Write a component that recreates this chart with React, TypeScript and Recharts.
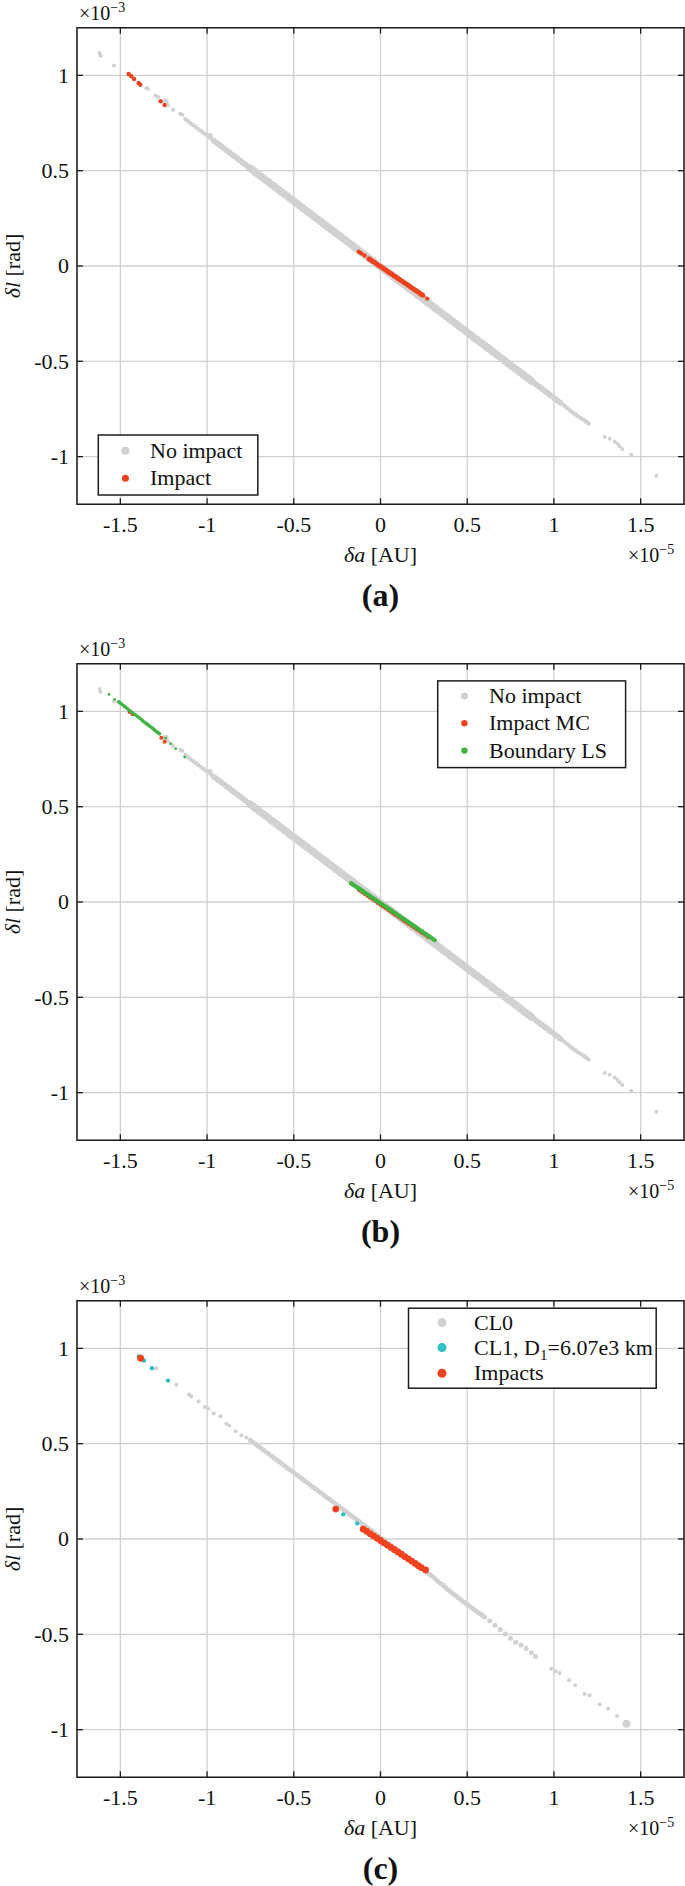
import React from 'react';
import { ScatterChart, Scatter, XAxis, YAxis, CartesianGrid, ReferenceArea } from 'recharts';

// delta-a in units of 1e-5 AU, delta-l in units of 1e-3 rad
type Pt = [number, number];

const xTicks = [-1.5, -1, -0.5, 0, 0.5, 1, 1.5];
const yTicks = [-1, -0.5, 0, 0.5, 1];

// ---- "No impact" cloud (panels a and b) ----
const noImpactSparse: Pt[] = [
  [-1.62, 1.117], [-1.614, 1.103], [-1.537, 1.052], [-1.35, 0.933], [-1.34, 0.93],
  [-1.297, 0.895], [-1.283, 0.886], [-1.225, 0.843], [-1.196, 0.82], [-1.154, 0.799],
  [-1.143, 0.794], [1.293, -0.897], [1.321, -0.906], [1.35, -0.92], [1.366, -0.933],
  [1.379, -0.946], [1.394, -0.96], [1.446, -0.99], [1.591, -1.1],
];
const noImpactThin: Pt[] = [
  [-1.125, 0.77], [-1.11, 0.76], [-1.095, 0.749], [-1.08, 0.739], [-1.065, 0.729], [-1.05, 0.718],
  [-1.035, 0.708], [-1.02, 0.698], [-1.005, 0.688], [-0.99, 0.677], [-0.975, 0.667],
  [1.05, -0.726], [1.065, -0.737], [1.08, -0.747], [1.095, -0.759], [1.11, -0.77], [1.125, -0.779],
  [1.14, -0.789], [1.155, -0.797], [1.17, -0.806], [1.185, -0.816], [1.2, -0.826],
];
const noImpactMid: Pt[] = [
  [-1.239, 0.862], [-0.985, 0.682], [-0.96, 0.656], [-0.945, 0.646], [-0.93, 0.636], [-0.915, 0.626],
  [-0.9, 0.615], [-0.885, 0.605], [-0.87, 0.595], [-0.855, 0.584], [-0.84, 0.574], [-0.825, 0.564],
  [-0.81, 0.553], [-0.795, 0.543], [-0.78, 0.533], [-0.765, 0.522],
  [0.885, -0.613], [0.9, -0.623], [0.915, -0.634], [0.93, -0.644], [0.945, -0.654], [0.96, -0.664],
  [0.975, -0.675], [0.99, -0.685], [1.005, -0.695], [1.02, -0.706], [1.035, -0.716],
];
const noImpactWide: Pt[] = [
  [-0.75, 0.512], [-0.735, 0.502], [-0.72, 0.491], [-0.705, 0.481], [-0.69, 0.471], [-0.675, 0.46],
  [-0.66, 0.45], [-0.645, 0.44], [-0.63, 0.429], [-0.615, 0.419], [-0.6, 0.409], [-0.585, 0.398],
  [-0.57, 0.388], [-0.555, 0.378], [-0.54, 0.368], [-0.525, 0.357], [-0.51, 0.347], [-0.495, 0.337],
  [-0.48, 0.326], [-0.465, 0.316], [-0.45, 0.306], [-0.435, 0.295], [-0.42, 0.285], [-0.405, 0.275],
  [-0.39, 0.264], [-0.375, 0.254], [-0.36, 0.244], [-0.345, 0.233], [-0.33, 0.223], [-0.315, 0.213],
  [-0.3, 0.202], [-0.285, 0.192], [-0.27, 0.182], [-0.255, 0.171], [-0.24, 0.161], [-0.225, 0.151],
  [-0.21, 0.14], [-0.195, 0.13], [-0.18, 0.12], [-0.165, 0.11], [-0.15, 0.099], [-0.135, 0.089],
  [-0.12, 0.079], [-0.105, 0.068], [-0.09, 0.058], [-0.075, 0.048], [-0.06, 0.037], [-0.045, 0.027],
  [-0.03, 0.017], [-0.015, 0.006], [0, -0.004], [0.015, -0.014], [0.03, -0.025], [0.045, -0.035],
  [0.06, -0.045], [0.075, -0.056], [0.09, -0.066], [0.105, -0.076], [0.12, -0.087], [0.135, -0.097],
  [0.15, -0.107], [0.165, -0.118], [0.18, -0.128], [0.195, -0.138], [0.21, -0.148], [0.225, -0.159],
  [0.24, -0.169], [0.255, -0.179], [0.27, -0.19], [0.285, -0.2], [0.3, -0.21], [0.315, -0.221],
  [0.33, -0.231], [0.345, -0.241], [0.36, -0.252], [0.375, -0.262], [0.39, -0.272], [0.405, -0.283],
  [0.42, -0.293], [0.435, -0.303], [0.45, -0.314], [0.465, -0.324], [0.48, -0.334], [0.495, -0.345],
  [0.51, -0.355], [0.525, -0.365], [0.54, -0.376], [0.555, -0.386], [0.57, -0.396], [0.585, -0.406],
  [0.6, -0.417], [0.615, -0.427], [0.63, -0.437], [0.645, -0.448], [0.66, -0.458], [0.675, -0.468],
  [0.69, -0.479], [0.705, -0.489], [0.72, -0.499], [0.735, -0.51], [0.75, -0.52], [0.765, -0.53],
  [0.78, -0.541], [0.795, -0.551], [0.81, -0.561], [0.825, -0.572], [0.84, -0.582], [0.855, -0.592],
  [0.87, -0.603],
];

// ---- panel a: impacts ----
const impactSparseA: Pt[] = [
  [-1.452, 1.007], [-1.437, 0.995], [-1.421, 0.981], [-1.395, 0.96], [-1.385, 0.951],
  [-1.268, 0.864], [-1.245, 0.844], [-0.125, 0.075], [-0.111, 0.066], [-0.092, 0.055], [0.269, -0.171],
];
const impactStripeA: Pt[] = [
  [-0.067, 0.038], [-0.06, 0.034], [-0.05, 0.028], [-0.04, 0.022], [-0.03, 0.016], [-0.02, 0.009],
  [-0.01, 0.003], [0, -0.003], [0.01, -0.009], [0.02, -0.015], [0.03, -0.021], [0.04, -0.028],
  [0.05, -0.034], [0.06, -0.04], [0.07, -0.046], [0.08, -0.052], [0.09, -0.058], [0.1, -0.064],
  [0.11, -0.071], [0.12, -0.077], [0.13, -0.083], [0.14, -0.089], [0.15, -0.095], [0.16, -0.101],
  [0.17, -0.108], [0.18, -0.114], [0.19, -0.12], [0.2, -0.126], [0.21, -0.132], [0.22, -0.138],
  [0.23, -0.145], [0.237, -0.149], [0.244, -0.153],
];

// ---- panel b: Monte Carlo impacts and line-sampling boundary ----
const impactSparseB: Pt[] = [[-1.447, 0.996], [-1.43, 0.985], [-1.264, 0.861], [-1.245, 0.84]];
const impactStripeB: Pt[] = [
  [-0.121, 0.062], [-0.105, 0.052], [-0.09, 0.043], [-0.075, 0.033], [-0.06, 0.024], [-0.045, 0.015],
  [-0.03, 0.006], [-0.015, -0.004], [0, -0.013], [0.015, -0.022], [0.03, -0.031], [0.045, -0.041],
  [0.06, -0.05], [0.075, -0.06], [0.09, -0.069], [0.105, -0.078], [0.12, -0.087], [0.135, -0.097],
  [0.15, -0.106], [0.165, -0.115], [0.18, -0.124], [0.195, -0.134], [0.21, -0.143], [0.225, -0.152],
  [0.24, -0.161], [0.257, -0.171], [0.273, -0.182],
];
const boundarySparseB: Pt[] = [
  [-1.566, 1.089], [-1.533, 1.063], [-1.239, 0.86], [-1.21, 0.83], [-1.181, 0.804], [-1.129, 0.76],
];
const boundaryUpperB: Pt[] = [
  [-1.51, 1.05], [-1.5, 1.043], [-1.49, 1.036], [-1.48, 1.029], [-1.47, 1.022], [-1.46, 1.015],
  [-1.45, 1.007], [-1.44, 1.0], [-1.43, 0.993], [-1.42, 0.986], [-1.41, 0.979], [-1.4, 0.972],
  [-1.39, 0.965], [-1.38, 0.958], [-1.37, 0.95], [-1.36, 0.943], [-1.35, 0.936], [-1.34, 0.929],
  [-1.33, 0.922], [-1.32, 0.915], [-1.31, 0.908], [-1.3, 0.9], [-1.29, 0.893], [-1.282, 0.888],
  [-1.274, 0.882],
];
const boundaryCentreB: Pt[] = [
  [-0.169, 0.098], [-0.16, 0.092], [-0.15, 0.086], [-0.14, 0.08], [-0.13, 0.074], [-0.12, 0.068],
  [-0.11, 0.062], [-0.1, 0.056], [-0.09, 0.049], [-0.08, 0.043], [-0.07, 0.037], [-0.06, 0.031],
  [-0.05, 0.024], [-0.04, 0.018], [-0.03, 0.012], [-0.02, 0.006], [-0.01, 0], [0, -0.006],
  [0.01, -0.012], [0.02, -0.019], [0.03, -0.025], [0.04, -0.031], [0.05, -0.037], [0.06, -0.043],
  [0.07, -0.05], [0.08, -0.056], [0.09, -0.062], [0.1, -0.068], [0.11, -0.074], [0.12, -0.081],
  [0.13, -0.087], [0.14, -0.093], [0.15, -0.099], [0.16, -0.105], [0.17, -0.112], [0.18, -0.118],
  [0.19, -0.124], [0.2, -0.13], [0.21, -0.136], [0.22, -0.143], [0.23, -0.149], [0.24, -0.155],
  [0.25, -0.161], [0.26, -0.167], [0.27, -0.174], [0.28, -0.18], [0.29, -0.186], [0.3, -0.192],
  [0.312, -0.2],
];

// ---- panel c: clusters ----
const cl0Sparse: Pt[] = [
  [-1.293, 0.896], [-1.177, 0.809], [-1.104, 0.758], [-1.091, 0.747], [-1.049, 0.723],
  [-1.014, 0.692], [-0.994, 0.684], [-0.962, 0.658], [-0.923, 0.644], [-0.889, 0.605],
  [-0.873, 0.596], [-0.835, 0.565], [-0.802, 0.544], [-0.773, 0.532],
  [0.985, -0.68], [1.01, -0.694], [1.033, -0.703], [1.087, -0.741], [1.123, -0.767],
  [1.177, -0.813], [1.206, -0.82], [1.264, -0.868], [1.312, -0.889], [1.364, -0.929],
];
const cl0Chain: Pt[] = [
  [-0.75, 0.518], [-0.735, 0.508], [-0.72, 0.498], [-0.705, 0.487], [-0.69, 0.477], [-0.675, 0.467],
  [-0.66, 0.457], [-0.645, 0.447], [-0.63, 0.436], [-0.615, 0.426], [-0.6, 0.416], [-0.585, 0.406],
  [-0.57, 0.396], [-0.555, 0.385], [-0.54, 0.375], [-0.525, 0.365], [-0.51, 0.355], [-0.495, 0.345],
  [-0.48, 0.334], [-0.465, 0.324], [-0.45, 0.314], [-0.435, 0.304], [-0.42, 0.294], [-0.405, 0.283],
  [-0.39, 0.273], [-0.375, 0.263], [-0.36, 0.253], [-0.345, 0.243], [-0.33, 0.232], [-0.315, 0.222],
  [-0.3, 0.212], [-0.285, 0.202], [-0.27, 0.192], [-0.255, 0.181], [-0.24, 0.171], [-0.225, 0.161],
  [-0.21, 0.151], [-0.195, 0.141], [-0.18, 0.13], [-0.165, 0.12], [-0.15, 0.11], [-0.135, 0.1],
  [-0.12, 0.09], [-0.105, 0.079], [-0.09, 0.069], [-0.075, 0.059], [-0.06, 0.049], [-0.045, 0.039],
  [-0.03, 0.028], [-0.015, 0.018], [0, 0.008], [0.015, -0.002], [0.03, -0.012], [0.045, -0.023],
  [0.06, -0.033], [0.075, -0.043], [0.09, -0.053], [0.105, -0.063], [0.12, -0.074], [0.135, -0.084],
  [0.15, -0.094], [0.165, -0.104], [0.18, -0.114], [0.195, -0.125], [0.21, -0.135], [0.225, -0.145],
  [0.24, -0.155], [0.255, -0.166], [0.27, -0.178], [0.285, -0.186], [0.3, -0.196], [0.315, -0.209],
  [0.33, -0.222], [0.345, -0.232], [0.36, -0.243], [0.375, -0.254], [0.39, -0.266], [0.405, -0.277],
  [0.42, -0.288], [0.435, -0.299], [0.45, -0.31], [0.465, -0.32], [0.48, -0.331], [0.495, -0.34],
  [0.51, -0.35], [0.525, -0.36], [0.54, -0.37], [0.555, -0.38], [0.57, -0.389], [0.585, -0.399],
  [0.6, -0.409], [0.63, -0.43], [0.66, -0.452], [0.69, -0.475], [0.72, -0.498], [0.75, -0.52],
  [0.78, -0.541], [0.81, -0.556], [0.84, -0.575], [0.87, -0.597], [0.894, -0.616],
];
const cl0Big: Pt[] = [[1.418, -0.969]];
const cl1: Pt[] = [
  [-1.393, 0.958], [-1.364, 0.936], [-1.318, 0.896], [-1.225, 0.831], [-0.215, 0.129], [-0.134, 0.082],
];
const impactsC: Pt[] = [
  [-1.383, 0.948], [-0.258, 0.157], [-0.1, 0.052], [-0.08, 0.041], [-0.06, 0.028], [-0.04, 0.016],
  [-0.02, 0.004], [0, -0.008], [0.02, -0.02], [0.04, -0.032], [0.06, -0.044], [0.08, -0.056],
  [0.1, -0.068], [0.12, -0.08], [0.14, -0.092], [0.16, -0.104], [0.18, -0.116], [0.2, -0.128],
  [0.218, -0.14], [0.235, -0.15], [0.26, -0.162],
];

const W = 685;
const PLOT_LEFT = 77;
const PLOT_RIGHT = 684;
const PLOT_TOP = 27.7;
const PLOT_H = 476.6;
const AXIS_H = 40;
const CHART_H = PLOT_TOP + PLOT_H + AXIS_H;
const PANEL_H = 640;

const GREY = '#d1d1d1';
const RED = '#f1421f';
const GREEN = '#3fb440';
const CYAN = '#2fbfc0';
const GRID = '#d0d0d0';
const INK = '#1c1c1c';
const FONT = "'Liberation Serif', 'Times New Roman', serif";

const pts = (a: Pt[]) => a.map(([x, y]) => ({ x, y }));

const dot = (r: number, fill: string) => (p: any) =>
  p.cx == null ? <g /> : <circle cx={p.cx} cy={p.cy} r={r} fill={fill} />;

// inward ticks on both sides, label outside
const XTick = (p: any) => {
  const { x, y, payload } = p;
  return (
    <g>
      <line x1={x} x2={x} y1={y} y2={y - 6} stroke={INK} strokeWidth={1.3} />
      <line x1={x} x2={x} y1={y - PLOT_H} y2={y - PLOT_H + 6} stroke={INK} strokeWidth={1.3} />
      <text x={x} y={y + 28} textAnchor="middle" fontSize={22} fontFamily={FONT} fill="#111">
        {String(payload.value)}
      </text>
    </g>
  );
};

const YTick = (p: any) => {
  const { x, y, payload } = p;
  return (
    <g>
      <line x1={x} x2={x + 6} y1={y} y2={y} stroke={INK} strokeWidth={1.3} />
      <line x1={PLOT_RIGHT} x2={PLOT_RIGHT - 6} y1={y} y2={y} stroke={INK} strokeWidth={1.3} />
      <text x={x - 8} y={y + 7.5} textAnchor="end" fontSize={22} fontFamily={FONT} fill="#111">
        {String(payload.value)}
      </text>
    </g>
  );
};

interface Series { data: Pt[]; r: number; color: string; name: string }
interface LegendEntry { label: React.ReactNode; color: string; r: number }
interface LegendBox { x: number; y: number; w: number; h: number; markX: number; textX: number; rows: number[]; entries: LegendEntry[] }

const Panel = ({ top, series, legend, tag }: { top: number; series: Series[]; legend: LegendBox; tag: string }) => {
  const bottom = PLOT_TOP + PLOT_H;
  return (
    <div style={{ position: 'absolute', left: 0, top, width: W, height: PANEL_H, fontFamily: FONT }}>
      <ScatterChart
        width={W}
        height={CHART_H}
        margin={{ top: PLOT_TOP, right: W - PLOT_RIGHT, bottom: 0, left: 0 }}
      >
        <CartesianGrid stroke={GRID} strokeWidth={1.3} />
        <XAxis
          type="number" dataKey="x" domain={[-1.75, 1.75]} allowDataOverflow
          ticks={xTicks} interval={0} tickSize={0} tickMargin={0}
          axisLine={false} tickLine={false} height={AXIS_H} tick={<XTick />}
        />
        <YAxis
          type="number" dataKey="y" domain={[-1.25, 1.25]} allowDataOverflow
          ticks={yTicks} interval={0} tickSize={0} tickMargin={0}
          axisLine={false} tickLine={false} width={PLOT_LEFT} tick={<YTick />}
        />
        {series.map((s, i) => (
          <Scatter
            key={i}
            name={s.name}
            data={pts(s.data)}
            fill={s.color}
            shape={dot(s.r, s.color)}
            isAnimationActive={false}
          />
        ))}
        <ReferenceArea
          x1={-1.75} x2={1.75} y1={-1.25} y2={1.25}
          fill="none" stroke={INK} strokeWidth={1.5} ifOverflow="visible"
        />
      </ScatterChart>
      <svg
        width={W}
        height={PANEL_H}
        style={{ position: 'absolute', left: 0, top: 0, pointerEvents: 'none' }}
        fontFamily={FONT}
        fill="#111"
      >
        <text x={79} y={19.5} fontSize={20}>
          ×10<tspan dy={-8} fontSize={14}>−3</tspan>
        </text>
        <text x={628} y={bottom + 57.5} fontSize={20}>
          ×10<tspan dy={-8} fontSize={14}>−5</tspan>
        </text>
        <text x={(PLOT_LEFT + PLOT_RIGHT) / 2} y={bottom + 58} textAnchor="middle" fontSize={22}>
          <tspan fontStyle="italic">δa</tspan> [AU]
        </text>
        <text
          x={19.5}
          y={PLOT_TOP + PLOT_H / 2}
          textAnchor="middle"
          fontSize={22}
          transform={`rotate(-90 19.5 ${PLOT_TOP + PLOT_H / 2})`}
        >
          <tspan fontStyle="italic">δl</tspan> [rad]
        </text>
        <text x={(PLOT_LEFT + PLOT_RIGHT) / 2} y={bottom + 102} textAnchor="middle" fontSize={32} fontWeight="bold">
          ({tag})
        </text>
        <rect x={legend.x} y={legend.y} width={legend.w} height={legend.h} fill="#fff" stroke={INK} strokeWidth={1.5} />
        {legend.entries.map((e, i) => (
          <g key={i}>
            <circle cx={legend.markX} cy={legend.rows[i]} r={e.r} fill={e.color} />
            <text x={legend.textX} y={legend.rows[i] + 7} fontSize={22}>{e.label}</text>
          </g>
        ))}
      </svg>
    </div>
  );
};

const greySeries = (name: string): Series[] => [
  { data: noImpactThin, r: 2.2, color: GREY, name },
  { data: noImpactMid, r: 3, color: GREY, name },
  { data: noImpactWide, r: 3.8, color: GREY, name },
  { data: noImpactSparse, r: 2, color: GREY, name },
];

const seriesA: Series[] = [
  ...greySeries('No impact'),
  { data: impactSparseA, r: 2.2, color: RED, name: 'Impact' },
  { data: impactStripeA, r: 2.5, color: RED, name: 'Impact' },
];
const seriesB: Series[] = [
  ...greySeries('No impact'),
  { data: impactSparseB, r: 2, color: RED, name: 'Impact MC' },
  { data: impactStripeB, r: 2.2, color: RED, name: 'Impact MC' },
  { data: boundarySparseB, r: 1.4, color: GREEN, name: 'Boundary LS' },
  { data: boundaryUpperB, r: 1.8, color: GREEN, name: 'Boundary LS' },
  { data: boundaryCentreB, r: 2.2, color: GREEN, name: 'Boundary LS' },
];
const seriesC: Series[] = [
  { data: cl0Sparse, r: 2, color: GREY, name: 'CL0' },
  { data: cl0Chain, r: 2.5, color: GREY, name: 'CL0' },
  { data: cl0Big, r: 4, color: GREY, name: 'CL0' },
  { data: cl1, r: 2.2, color: CYAN, name: 'CL1' },
  { data: impactsC, r: 3.4, color: RED, name: 'Impacts' },
];

const legendA: LegendBox = {
  x: 98.3, y: 435, w: 159.5, h: 60, markX: 125.4, textX: 150, rows: [450.7, 478.3],
  entries: [
    { label: 'No impact', color: GREY, r: 4 },
    { label: 'Impact', color: RED, r: 3.5 },
  ],
};
const legendB: LegendBox = {
  x: 437.7, y: 44.9, w: 187.9, h: 86.7, markX: 464.4, textX: 489, rows: [59.9, 87.2, 114.6],
  entries: [
    { label: 'No impact', color: GREY, r: 3.5 },
    { label: 'Impact MC', color: RED, r: 3.2 },
    { label: 'Boundary LS', color: GREEN, r: 3.2 },
  ],
};
const legendC: LegendBox = {
  x: 408.5, y: 35.2, w: 247.7, h: 80, markX: 442, textX: 474, rows: [49.6, 74.6, 100.2],
  entries: [
    { label: 'CL0', color: GREY, r: 4.5 },
    {
      label: (
        <>
          CL1, D<tspan dy={5} fontSize={15}>1</tspan><tspan dy={-5}>=6.07e3 km</tspan>
        </>
      ),
      color: CYAN,
      r: 4.5,
    },
    { label: 'Impacts', color: RED, r: 4.5 },
  ],
};

export default function App() {
  return (
    <div style={{ position: 'absolute', left: 0, top: 0, width: W, height: 1886, overflow: 'hidden', background: '#fff' }}>
      <Panel top={0} series={seriesA} legend={legendA} tag="a" />
      <Panel top={636.1} series={seriesB} legend={legendB} tag="b" />
      <Panel top={1273.1} series={seriesC} legend={legendC} tag="c" />
    </div>
  );
}
